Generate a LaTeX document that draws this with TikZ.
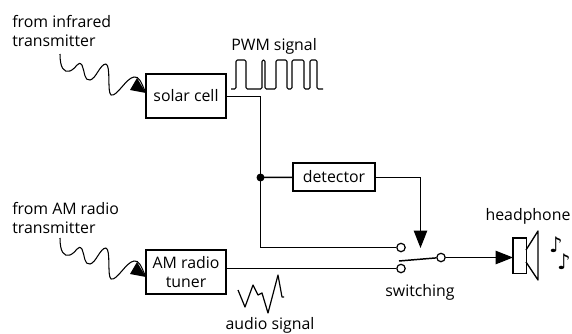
\documentclass[tikz,border=0pt]{standalone}
\usepackage{fontspec}
\setmainfont{Open Sans}
\newfontfamily\symfont{DejaVu Sans}
\usetikzlibrary{arrows.meta}
\tikzset{
  wire/.style={line width=1.1pt,line join=miter},
  thin wire/.style={line width=0.8pt,line join=round},
  blockbox/.style={draw,line width=1pt,minimum width=60pt,minimum height=33pt,inner sep=0pt,align=center,font=\fontsize{11.9}{14.2}\selectfont},
  lab/.style={inner sep=0pt,align=left,font=\fontsize{11.9}{14.2}\selectfont},
  term/.style={circle,draw,fill=white,line width=0.9pt,minimum size=6.3pt,inner sep=0pt},
  head/.style={-{Triangle[length=13pt,width=10pt]}},
}
\begin{document}
\begin{tikzpicture}[x=0.75pt,y=-0.75pt]
\useasboundingbox (0,0) rectangle (572,333);
\node[blockbox] (solar) at (186,96) {solar cell};
\node[blockbox,minimum width=61.5pt,minimum height=21pt] (det) at (334,177) {detector};
\node[blockbox] (am) at (186,272) {AM radio\\tuner};
\coordinate (bladeend) at (399,261);
\coordinate (corner1) at (260.5,96.5);
\coordinate (corner2) at (260.5,247.5);
\coordinate (corner3) at (420.5,177.5);
\coordinate (arrowtip) at (420.5,248);
\coordinate (a2) at (226,268.5);
\coordinate (j) at (260.5,177.5);
\node[draw,line width=1pt,minimum width=10pt,minimum height=26.5pt,inner sep=0pt] (spk) at (519.5,255.5) {};
\node[term] (t1) at (401,247.5) {};
\node[term] (t2) at (401,268.5) {};
\node[term] (t3) at (441,257.5) {};
\coordinate (spkin) at (513,257.5);
\coordinate (s1) at (226,96.5);
\coordinate (d1) at (375,177.5);
\draw[wire] (s1) -- (corner1) -- (corner2) -- (t1);
\draw[wire] (j) -- (det);
\draw[wire] (a2) -- (t2);
\draw[wire,head] (d1) -- (corner3) -- (arrowtip);
\draw[wire] (bladeend) -- (t3);
\draw[wire,head] (t3) -- (spkin);
\fill (j) circle (4);
\draw[line width=1pt,line join=round] (526,250) -- (538,231) -- (538,280) -- (526,262);
% infrared wave
\draw[thin wire] (60,54) .. controls (60,68) and (64,73) .. (70,71) .. controls (77,68) and (78,60) .. (82,65) .. controls (85,72) and (84,81) .. (90,80) .. controls (96,79) and (100,64) .. (106,64) .. controls (111,66) and (107,92) .. (111,95) .. controls (117,97) and (126,78) .. (134,77) .. controls (139,76) and (141,82) .. (145,91);
\fill (146,93) -- (130,90) -- (137,78) -- cycle;
% AM wave
\draw[thin wire] (60,238) .. controls (60,252) and (64,257) .. (70,255) .. controls (77,252) and (78,244) .. (82,249) .. controls (85,256) and (84,265) .. (90,264) .. controls (96,263) and (100,248) .. (106,248) .. controls (111,250) and (107,276) .. (111,279) .. controls (117,281) and (126,262) .. (134,261) .. controls (139,260) and (141,266) .. (145,275);
\fill (146,277) -- (130,274) -- (137,262) -- cycle;
% PWM
\draw[thin wire,rounded corners=1pt] (231,89) -- (236,89) -- (236,60) -- (246,60) -- (246,89) -- (262,89) -- (262,60) -- (265,60) -- (265,89) -- (276,89) -- (276,60) -- (287,60) -- (287,89) -- (292,89) -- (292,60) -- (304,60) -- (304,89) -- (310,89) -- (310,60) -- (317,60) -- (317,89) -- (323,89);
% audio
\draw[line width=0.9pt,line join=round] (238,290) -- (245,307) -- (253,285) -- (258,295) -- (262,293) -- (268,313) -- (278,275) -- (282,297) -- (284,297);
% labels
\node[lab,anchor=west] (l1) at (12,22) {from infrared};
\node[lab,anchor=west] (l2) at (12,41) {transmitter};
\node[lab,anchor=west] (l3) at (231,46) {PWM signal};
\node[lab,anchor=west] (l4) at (12,209) {from AM radio};
\node[lab,anchor=west] (l5) at (12,228) {transmitter};
\node[lab] (l6) at (528,216) {headphone};
\node[lab] (l7) at (420,292) {switching};
\node[lab] (l8) at (270,325) {audio signal};
\node[inner sep=0pt,font=\symfont\fontsize{16}{16}\selectfont] (n1) at (556,245) {♪};
\node[inner sep=0pt,font=\symfont\fontsize{16}{16}\selectfont] (n2) at (564,262) {♪};
\end{tikzpicture}
\end{document}
